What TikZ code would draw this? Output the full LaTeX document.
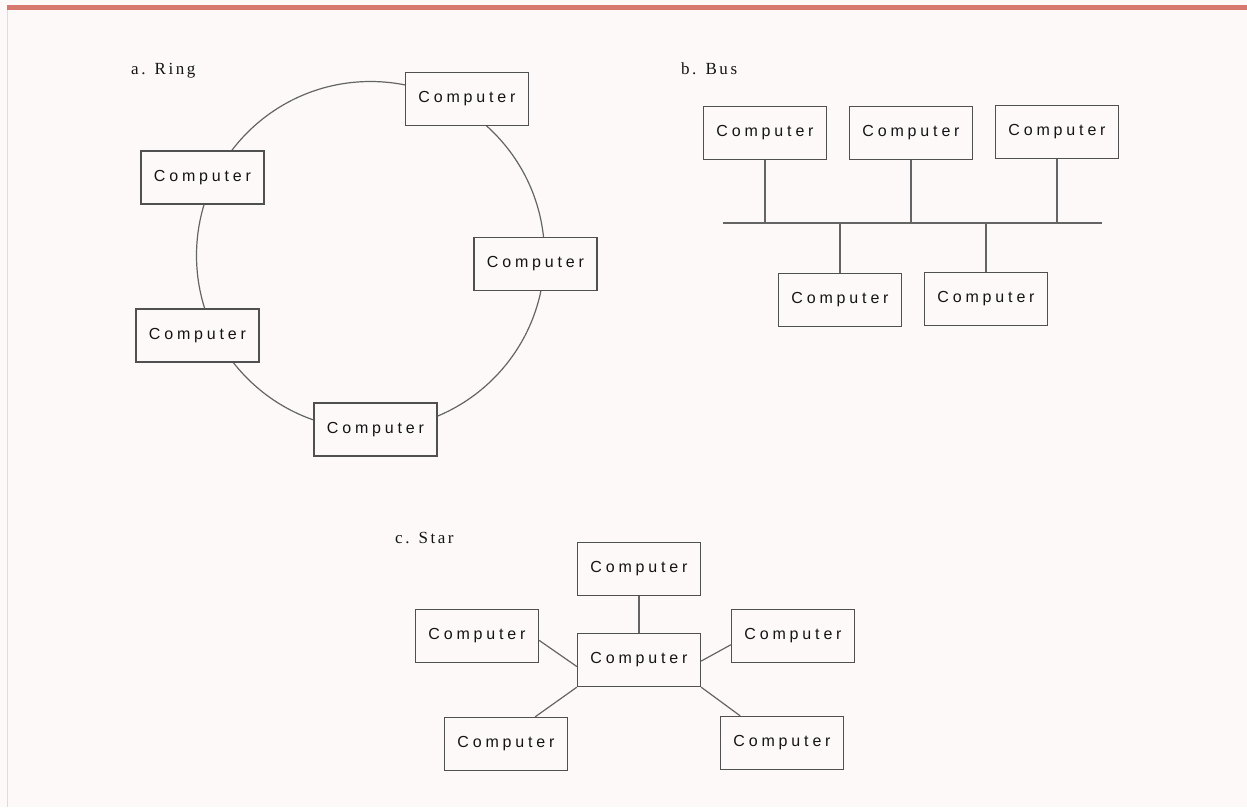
\documentclass[tikz,border=0pt]{standalone}
\usepackage{fontspec}
\setmainfont{Liberation Serif}
\newfontfamily\compfont[LetterSpace=24]{Liberation Sans}
\newfontfamily\labfont[LetterSpace=15]{Liberation Serif}
\definecolor{bgpink}{RGB}{253,249,249}
\definecolor{edgegray}{RGB}{80,80,80}
\definecolor{ringgray}{RGB}{100,100,100}
\definecolor{rulered}{RGB}{214,120,110}
\definecolor{sidegray}{RGB}{225,220,220}
\definecolor{inkblack}{RGB}{20,20,20}

\tikzset{
  comp/.style={rectangle, draw=edgegray, fill=bgpink, line width=1.3pt,
    minimum width=123pt, minimum height=53pt, inner sep=0pt,
    text=inkblack, font={\compfont\fontsize{16}{19}\selectfont}},
  link/.style={draw=ringgray, line width=1.2pt},
  caption/.style={anchor=base west, inner sep=0pt, text=inkblack,
    font={\labfont\fontsize{17}{20}\selectfont}}
}

\begin{document}
\begin{tikzpicture}[x=1pt, y=-1pt]
  \fill[bgpink] (0,0) rectangle (1247,807);
  \useasboundingbox (0,0) rectangle (1247,807);
  % page frame
  \draw[sidegray, line width=1pt] (7,10) -- (7,807);
  \draw[rulered, line width=5pt] (7,7.5) -- (1247,7.5);

  % a. Ring
  \node[caption] (ringlab) at (131,74) {a. Ring};
  \coordinate (ringc) at (370.5,255.5);
  \draw[link] (ringc) circle[radius=174];
  \node[comp] (r1) at (467,99) {Computer};
  \node[comp] (r2) at (202.5,177.5) {Computer};
  \node[comp] (r3) at (535.5,264) {Computer};
  \node[comp] (r4) at (197.5,335.5) {Computer};
  \node[comp] (r5) at (375.5,429.5) {Computer};

  % b. Bus
  \node[caption] (buslab) at (681,74) {b. Bus};
  \node[comp] (b1) at (765,133) {Computer};
  \node[comp] (b2) at (911,133) {Computer};
  \node[comp] (b3) at (1057,132) {Computer};
  \node[comp] (b4) at (840,300) {Computer};
  \node[comp] (b5) at (986,299) {Computer};
  \coordinate (busw) at (723,223);
  \coordinate (buse) at (1102,223);
  \draw[link] (busw) -- (buse);
  \foreach \n in {b1,b2,b3} \draw[link] (\n.south) -- (\n.south |- busw);
  \foreach \n in {b4,b5} \draw[link] (\n.north) -- (\n.north |- busw);

  % c. Star
  \node[caption] (starlab) at (395,543) {c. Star};
  \node[comp] (sc) at (639,660) {Computer};
  \node[comp] (st) at (639,569) {Computer};
  \node[comp] (sl) at (477,636) {Computer};
  \node[comp] (sr) at (793,636) {Computer};
  \node[comp] (sbl) at (506,744) {Computer};
  \node[comp] (sbr) at (782,743) {Computer};
  \draw[link] (st) -- (sc);
  \draw[link] (sl.-4) -- (sc.186);
  \draw[link] (sc.-1) -- (sr.188);
  \draw[link] (sc.south west) -- (sbl.43);
  \draw[link] (sc.south east) -- (sbr.147);
\end{tikzpicture}
\end{document}
